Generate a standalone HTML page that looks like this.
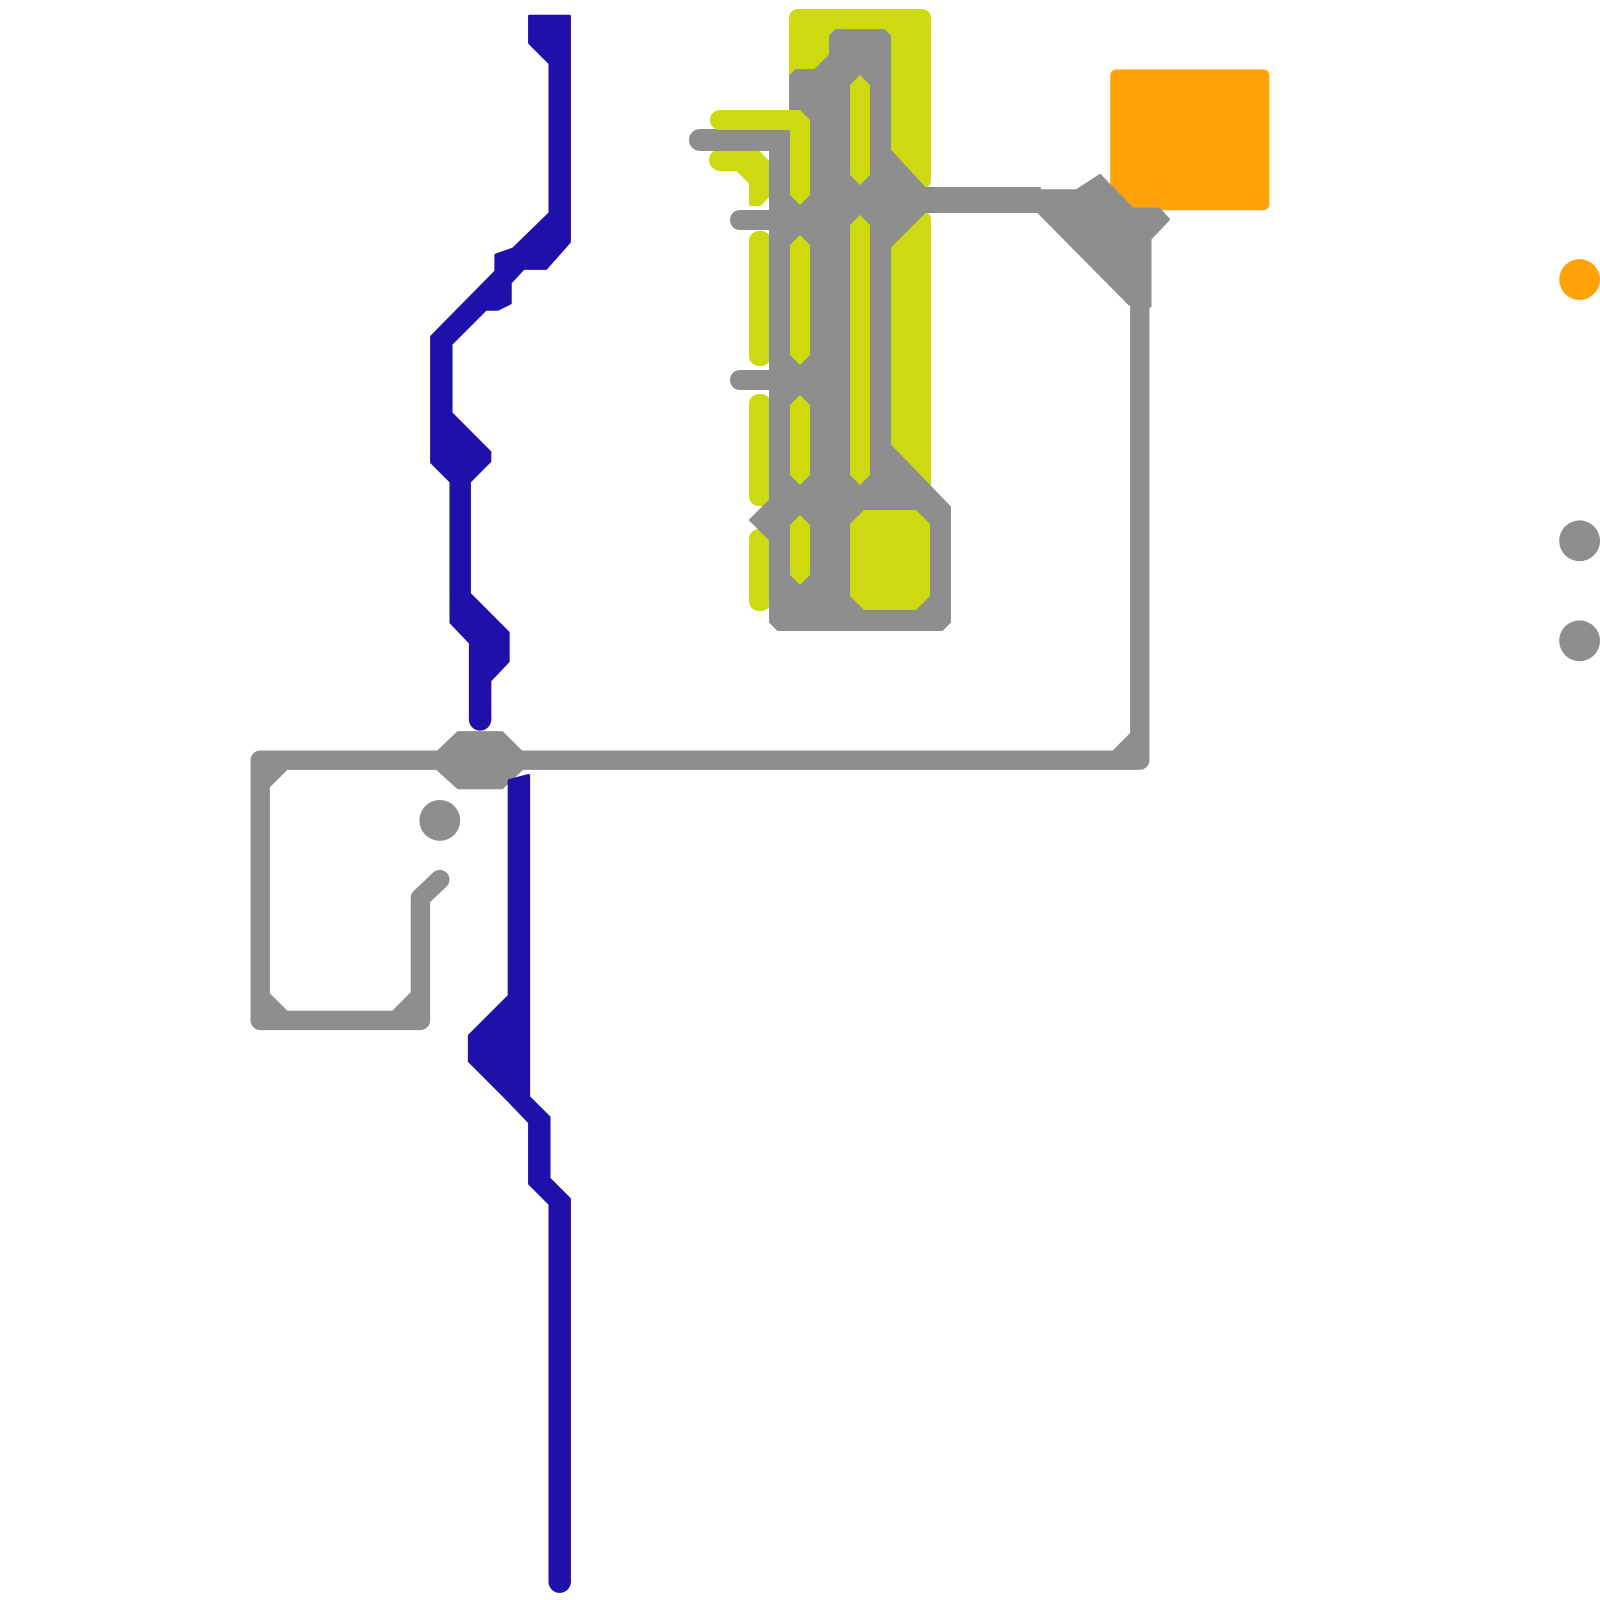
<!DOCTYPE html>
<html><head><meta charset="utf-8"><style>html,body{margin:0;padding:0;background:#fff}svg{display:block}</style></head>
<body>
<svg width="1600" height="1600" viewBox="0 0 1600 1600" xmlns="http://www.w3.org/2000/svg">
<rect width="1600" height="1600" fill="#fff"/>
<g fill="#cdda12" stroke="#cdda12" stroke-width="2" stroke-linejoin="round">
<rect x="790" y="10" width="140" height="178" rx="8"/>
<rect x="890" y="212" width="40" height="285" rx="8"/>
<rect x="750" y="232" width="20" height="133" rx="9"/>
<rect x="750" y="395" width="20" height="110" rx="9"/>
<rect x="750" y="530" width="20" height="80" rx="9"/>
<polygon points="720,150 757,150 770,163 770,195 760,205 750,205 750,183 737,170 720,170"/>
<circle cx="720" cy="160" r="10"/>
</g>
<g fill="#8e8e8e" stroke="#8e8e8e" stroke-width="2" stroke-linejoin="round">
<polygon points="830,36 836,30 884,30 890,36 890,150 925,188 1040,188 1040,212 925,212 890,247 890,445 950,507 950,622 942,630 778,630 770,622 770,540 750,520 770,500 770,150 700,150 700,130 785,130 790,125 790,76 796,70 815,70 830,55"/>
<circle cx="700" cy="140" r="10"/>
</g>
<g stroke="#8e8e8e" stroke-width="20" stroke-linecap="round" fill="none">
<line x1="740" y1="220" x2="800" y2="220"/>
<line x1="740" y1="380" x2="800" y2="380"/>
</g>
<g fill="#cdda12">
<polygon points="720,110 800,110 810,120 810,195 800,205 790,195 790,130 720,130"/>
<circle cx="720" cy="120" r="10"/>
<polygon points="850,85 860,75 870,85 870,175 860,185 850,175"/>
<polygon points="850,225 860,215 870,225 870,475 860,485 850,475"/>
<polygon points="790,245 800,235 810,245 810,355 800,365 790,355"/>
<polygon points="790,405 800,395 810,405 810,475 800,485 790,475"/>
<polygon points="790,525 800,515 810,525 810,575 800,585 790,575"/>
<polygon points="864,510 916,510 930,524 930,596 916,610 864,610 850,596 850,524"/>
</g>
<g transform="scale(1.020408)">
<rect x="1088" y="68" width="156" height="138" rx="6" fill="#ffa308"/>
<g fill="#8e8e8e" stroke="#8e8e8e" stroke-width="3" stroke-linejoin="round">
<polygon points="1015,187 1055,187 1078,172 1110,205 1136,205 1145,215 1127,234 1127,300 1107,298 1015,205"/>
<polygon points="449,718 492,718 513,739 513,752 492,772 449,772 427,752 427,739"/>
<polygon points="264,754 280,754 264,770"/>
<polygon points="264,975 264,991 280,991"/>
<polygon points="386,991 403,991 403,974"/>
<polygon points="1108,720 1108,736 1092,736"/>
</g>
<polyline points="431,862 412,880 412,1000 255,1000 255,745 1117,745 1117,230" fill="none" stroke="#8e8e8e" stroke-width="19" stroke-linejoin="round" stroke-linecap="round"/>
<circle cx="431" cy="804" r="20" fill="#8e8e8e"/>
<g fill="#2010aa" stroke="#2010aa" stroke-width="3" stroke-linejoin="round">
<polygon points="519,16 558,16 558,237 535,263 513,263 500,277 500,297 488,303 476,303 442,337 442,405 480,443 480,452 460,472 460,582 498,620 498,648 480,667 480,705 461,705 461,630 442,610 442,472 423,453 423,330 486,266 486,250 503,244 539,209 539,62 519,42"/>
<polygon points="499,765 518,760 518,1075 538,1095 538,1155 558,1175 558,1550 539,1550 539,1180 519,1160 519,1100 500,1080 460,1040 460,1015 499,976"/>
<circle cx="470.5" cy="705" r="9.5"/>
<circle cx="548.5" cy="1550" r="9.5"/>
</g>
<circle cx="1548" cy="274" r="20" fill="#ffa308"/>
<circle cx="1548" cy="530" r="20" fill="#8e8e8e"/>
<circle cx="1548" cy="628" r="20" fill="#8e8e8e"/>
</g>
</svg>
</body></html>
